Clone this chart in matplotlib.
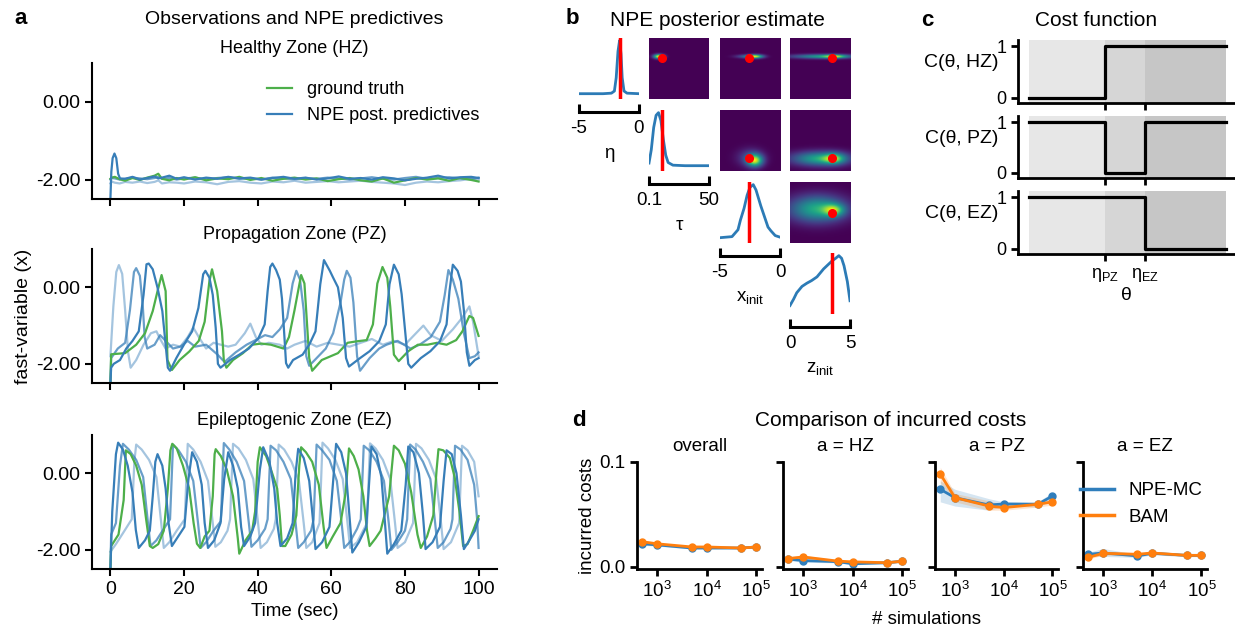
import numpy as np
import matplotlib
matplotlib.use('Agg')
import matplotlib.pyplot as plt
from matplotlib.lines import Line2D
from matplotlib.ticker import NullLocator

plt.rcParams['font.family'] = ['Liberation Sans', 'DejaVu Sans']
plt.rcParams['mathtext.fontset'] = 'custom'
plt.rcParams['mathtext.rm'] = 'Liberation Sans'
plt.rcParams['mathtext.it'] = 'Liberation Sans:italic'
plt.rcParams['mathtext.bf'] = 'Liberation Sans:bold'
plt.rcParams['axes.unicode_minus'] = False

# ---------------- data: panel a (traces as (time, value) pairs) ----------------
hz_t = [0, 0.3, 1.2, 2.5, 4, 6, 8, 10, 12, 13, 14, 16, 18, 20, 23, 26, 29, 32, 35, 38, 41,
        44, 47, 50, 53, 56, 59, 62, 65, 68, 71, 74, 77, 80, 83, 86, 89, 92, 95, 98, 100]
hz_green = [-1.98, -1.95, -1.93, -1.99, -2.03, -1.96, -2.01, -1.95, -1.9, -1.85, -1.98, -2.02, -1.96,
            -2.0, -1.94, -2.02, -1.97, -1.99, -1.93, -2.01, -1.96, -2.03, -1.98, -1.95, -2.0, -1.97,
            -2.04, -1.99, -1.96, -2.02, -2.05, -1.97, -2.08, -2.02, -1.96, -2.0, -1.97, -2.03, -1.96,
            -2.01, -2.05]
hz_mid = [-2.0, -1.96, -1.97, -2.0, -1.98, -1.95, -1.97, -1.99, -1.96, -1.93, -1.98, -1.96, -2.0,
          -1.97, -1.95, -1.99, -1.96, -1.94, -1.98, -1.97, -2.0, -1.95, -1.97, -1.99, -1.96, -1.98,
          -1.95, -1.97, -2.0, -1.97, -1.94, -1.98, -2.0, -1.96, -1.93, -1.98, -1.96, -1.94, -1.97,
          -1.99, -1.95]
hz_light = [-2.1, -2.05, -2.08, -2.1, -2.06, -2.08, -2.05, -2.09, -2.06, -2.02, -2.1, -2.07, -2.08,
            -2.1, -2.05, -2.07, -2.12, -2.06, -2.04, -2.08, -2.1, -2.05, -2.07, -2.03, -2.08, -2.06,
            -2.04, -2.07, -2.05, -2.03, -2.06, -2.08, -2.1, -2.14, -2.08, -2.05, -2.07, -2.04, -2.02,
            -1.98, -2.0]
hz_dark = [(0, -2.5), (0.25, -1.8), (0.6, -1.45), (1.1, -1.33), (1.6, -1.45), (2.1, -1.85),
           (2.6, -1.97), (4, -1.98), (6, -1.93), (8, -2.0), (10, -1.96), (12, -1.92), (13, -1.97),
           (14, -1.95), (16, -1.9), (18, -1.98), (20, -1.94), (23, -2.0), (26, -1.95), (29, -1.98),
           (32, -1.93), (35, -1.97), (38, -1.95), (41, -2.0), (44, -1.96), (47, -1.93), (50, -1.98),
           (53, -1.95), (56, -2.0), (59, -1.97), (62, -1.92), (65, -1.98), (68, -1.96), (71, -2.0),
           (74, -1.94), (77, -1.97), (80, -2.02), (83, -1.98), (86, -1.95), (89, -1.9), (92, -1.97),
           (95, -1.94), (98, -1.93), (100, -1.96)]

pz_green = [(0, -2.5), (0.2, -1.75), (4, -1.72), (7, -1.5), (9.4, -1.2), (11.5, -0.62), (12.8, -0.1),
            (13.9, 0.32), (15, -0.1), (15.5, -1.9), (16.7, -2.16), (18.8, -1.9), (21.4, -1.68),
            (24, -1.4), (25.6, -0.9), (26.9, 0.17), (27.6, 0.47), (29, -0.1), (30.3, -1.15),
            (30.8, -1.9), (31.5, -2.1), (33.3, -1.9), (36, -1.72), (38.5, -1.5), (41, -1.47),
            (43.6, -1.5), (47, -1.6), (48.5, -1.3), (50, -0.6), (51.8, 0.32), (52.7, 0.1),
            (54, -1.85), (54.8, -2.18), (57.4, -1.9), (61.8, -1.72), (64.4, -1.45), (67, -1.41),
            (69.6, -1.38), (71.3, -0.97), (72.5, 0.1), (73.9, 0.53), (75.2, 0.25), (76, -0.5),
            (77, -1.76), (78.3, -1.93), (80.9, -1.67), (83.5, -1.5), (86.1, -1.5), (88.7, -1.45),
            (91.3, -1.5), (93.9, -1.38), (95.6, -1.15), (97.5, -0.75), (98.5, -0.8), (100, -1.27)]
pz_dark = [(0, -2.5), (0.2, -2.1), (0.9, -2.0), (2.6, -1.9), (4.3, -1.6), (6, -1.4), (7.7, -1.15),
           (9, -0.2), (9.8, 0.6), (10.4, 0.62), (11.5, 0.47), (12.8, -0.01), (14.1, -0.62),
           (15, -1.5), (15.6, -2.1), (16.2, -2.18), (17.9, -1.85), (20.5, -1.41), (22.2, -1.15),
           (23.9, -0.54), (25.2, 0.34), (25.8, 0.43), (26.9, 0.25), (27.8, -0.2), (28.6, -1.06),
           (29.2, -2.0), (29.9, -2.1), (32.5, -1.9), (35, -1.76), (37.6, -1.6), (40.2, -1.33),
           (41.9, -0.97), (42.7, -0.1), (43.4, 0.53), (44, 0.62), (45, 0.45), (46, 0.2),
           (46.6, -0.3), (47.2, -1.2), (47.7, -1.98), (48.3, -2.1), (49.6, -1.9), (52.2, -1.76),
           (54, -1.5), (55.7, -1.15), (57, 0.08), (58, 0.71), (59.6, 0.43), (60.5, 0.25), (61.8, 0),
           (63.1, -0.8), (64, -1.85), (64.8, -2.07), (67.8, -1.85), (70.4, -1.67), (73, -1.41),
           (74.8, -0.97), (75.8, 0.08), (77, 0.59), (78.3, 0.34), (79.1, -0.18), (80.4, -1.5),
           (80.9, -2.0), (81.7, -2.1), (84.3, -1.85), (86.9, -1.67), (89.5, -1.41), (91.3, -0.97),
           (92.1, -0.1), (93, 0.59), (94.3, 0.43), (95.2, 0.15), (96, -0.6), (96.8, -1.7),
           (97.5, -2.05), (99, -1.9), (100, -1.85)]
pz_mid = [(0, -2.5), (0.2, -1.85), (2, -1.6), (4, -1.45), (5.3, -0.6), (6.4, 0.4), (7, 0.5), (8, 0.3),
          (8.8, -0.5), (9.3, -1.3), (10, -1.6), (12, -1.5), (13.5, -1.25), (15, -1.4), (17, -1.6),
          (19, -1.55), (21, -1.4), (23, -1.55), (26, -1.5), (29, -1.75), (31, -1.95), (34, -1.7),
          (37, -1.5), (40, -1.35), (42, -1.25), (44, -1.3), (46, -1.1), (48, -0.8), (49.5, 0.1),
          (50.5, 0.43), (51.5, 0.2), (52.5, -0.6), (53.2, -1.8), (54, -2.05), (56, -1.85),
          (58.5, -1.6), (60.5, -1.2), (62.5, -0.4), (63.5, 0.2), (64.2, 0.43), (65.2, 0.25),
          (66, -0.4), (67, -1.8), (67.8, -2.18), (70.4, -1.85), (73, -1.6), (75, -1.5), (78, -1.4),
          (81.5, -1.6), (84, -1.5), (87, -1.3), (89.5, -0.9), (90.8, -0.2), (91.8, 0.45), (93, 0.2),
          (94.5, -0.3), (96, -1.2), (97.5, -1.85), (99, -1.8), (100, -1.7)]
pz_light = [(0, -1.8), (0.8, -0.5), (1.6, 0.4), (2.3, 0.58), (3.2, 0.35), (4, -0.6), (4.8, -1.7),
            (5.5, -2.1), (7, -1.9), (9, -1.5), (11, -1.2), (12.5, -1.15), (13.5, -1.35), (15, -1.6),
            (17, -1.5), (19, -1.55), (21, -1.3), (22.5, -1.05), (24, -1.3), (26, -1.6), (28, -1.45),
            (30, -1.5), (32, -1.55), (34, -1.5), (36.5, -1.2), (38, -0.95), (39.5, -1.3), (41, -1.5),
            (43, -1.45), (46, -1.5), (48, -1.6), (50, -1.5), (53, -1.4), (56, -1.55), (59, -1.45),
            (62, -1.5), (65, -1.55), (68, -1.45), (71, -1.35), (74, -1.5), (77, -1.4), (80, -1.5),
            (83, -1.2), (85, -1.0), (87, -1.25), (90, -1.4), (93, -1.1), (95.5, -0.8), (97.5, -0.5),
            (98.5, -0.9), (100, -1.8)]

ez_green = [(0, -2.5), (0.2, -1.9), (2.2, -1.6), (3.6, -0.7), (4.2, 0.6), (5.5, 0.5), (7, 0.2),
            (8.5, -0.3), (9.7, -1.2), (10.7, -1.9), (11.5, -1.95), (13, -1.85), (14.5, -1.5),
            (15.6, -0.4), (16.3, 0.6), (16.8, 0.77), (18, 0.65), (19.7, 0.2), (21.4, -0.4),
            (22.6, -1.3), (23.5, -1.84), (24.4, -1.95), (25.6, -1.65), (26.9, -1.5), (27.8, -0.6),
            (28.3, 0.5), (28.6, 0.63), (30, 0.45), (31.6, 0.1), (33.3, -0.6), (34.6, -1.7),
            (35, -2.1), (36.7, -1.75), (38.5, -1.5), (39.3, -1.0), (40, 0.3), (40.6, 0.68),
            (42.3, 0.45), (43.6, 0.1), (45.3, -0.4), (46, -1.1), (46.6, -1.9), (47.5, -1.9),
            (49.2, -1.6), (50.5, -1.1), (51.3, 0.2), (51.8, 0.68), (53.1, 0.55), (54.8, 0.3),
            (56.6, -0.3), (57.9, -1.4), (58.7, -1.95), (60.4, -1.65), (62.5, -1.3), (63.9, -0.5),
            (64.8, 0.65), (66.1, 0.45), (67.4, 0.1), (68.7, -0.6), (69.7, -1.5), (70.4, -1.9),
            (72, -1.7), (73.4, -1.5), (75.7, -0.6), (77, 0.72), (78.3, 0.6), (80, 0.25), (81.7, -0.5),
            (83.4, -1.6), (84.3, -1.95), (86, -1.65), (87.7, -1.1), (88.6, 0.1), (89.1, 0.63),
            (90.4, 0.6), (92.2, 0.4), (93.5, -0.1), (94.8, -1.0), (95.8, -1.9), (97, -1.85),
            (98.5, -1.5), (100, -1.12)]
ez_dark = [(0, -2.5), (0.5, -1.0), (1.5, 0.5), (2.1, 0.8), (3.4, 0.62), (4.7, 0.2), (6, -0.5),
           (6.9, -1.48), (7.7, -1.95), (9.4, -1.75), (10.7, -1.5), (11.5, -0.6), (12.2, 0.3),
           (12.8, 0.5), (14.1, 0.2), (15, -0.4), (15.8, -1.3), (16.7, -1.9), (18.4, -1.65),
           (20.1, -1.4), (21.2, -0.15), (22.2, 0.55), (23.5, 0.3), (24.8, -0.3), (25.6, -1.3),
           (26.5, -1.95), (28.2, -1.75), (29.9, -1.3), (30.9, -0.15), (32, 0.55), (33.3, 0.2),
           (34.6, -0.4), (35.5, -1.4), (36.3, -1.9), (38, -1.65), (39.3, -1.3), (40.6, 0.1),
           (41.5, 0.68), (43.2, 0.3), (44.5, -0.4), (45.3, -1.3), (46.2, -1.9), (48, -1.7),
           (49.5, -1.3), (50.3, 0), (51, 0.64), (52.5, 0.4), (54, -0.2), (55, -1.2), (55.7, -1.98),
           (57.5, -1.8), (59.5, -1.4), (60.5, -0.2), (61.3, 0.77), (62.7, 0.55), (64, 0),
           (65, -1.2), (65.7, -2.07), (67.5, -1.8), (69.5, -1.4), (70.3, -0.2), (70.9, 0.7),
           (72.3, 0.5), (73.6, -0.1), (74.5, -1.2), (75.2, -2.1), (77, -1.85), (79, -1.5),
           (80.2, -0.3), (80.9, 0.7), (82.3, 0.55), (83.8, 0), (84.9, -1.1), (85.6, -1.98),
           (87.5, -1.8), (89.5, -1.4), (90.5, -0.2), (91.3, 0.6), (92.7, 0.5), (94, 0),
           (95.2, -1.1), (96, -1.98), (97.5, -1.75), (99, -1.5), (100, -1.2)]
ez_mid = [(0, -2.5), (0.2, -1.6), (1.5, -1.3), (2.6, 0.2), (3.4, 0.77), (5, 0.62), (7, 0.35),
          (8.9, -0.1), (10.2, -1.3), (10.9, -1.9), (12.5, -1.75), (14.5, -1.45), (16.2, -1.2),
          (17, 0.75), (18.5, 0.6), (20.5, 0.3), (22.5, -0.2), (23.8, -1.3), (24.5, -1.95), (26, -1.8),
          (28, -1.5), (30, -1.25), (30.8, 0.79), (32.3, 0.62), (34.3, 0.3), (36.3, -0.2),
          (37.6, -1.3), (38.3, -1.92), (40, -1.75), (42, -1.45), (42.7, -1.2), (43.5, 0.72),
          (45, 0.6), (47, 0.3), (49, -0.15), (50.3, -1.3), (51, -1.95), (52.5, -1.8), (54.5, -1.5),
          (55.2, -1.2), (56, 0.75), (57.5, 0.6), (59.5, 0.35), (61.5, -0.2), (62.8, -1.3),
          (63.5, -1.95), (65, -1.8), (67, -1.45), (68, -1.2), (68.8, 0.72), (70.3, 0.6), (72.3, 0.3),
          (74.3, -0.2), (75.6, -1.3), (76.3, -2.0), (78, -1.8), (80, -1.5), (80.6, -1.2),
          (81.4, 0.75), (82.9, 0.62), (84.9, 0.3), (86.9, -0.15), (88.2, -1.3), (88.9, -1.95),
          (90.5, -1.8), (92.4, -1.45), (92.9, -1.2), (93.6, 0.72), (95.1, 0.62), (97, 0.35),
          (98.8, -0.3), (99.6, -1.2), (100, -1.95)]
ez_light = [(0, -2.05), (1.5, -1.85), (3.5, -1.55), (5.8, -1.2), (6.5, 0.3), (7.0, 0.75), (8.5, 0.62),
            (10.5, 0.35), (12.5, -0.1), (13.8, -1.3), (14.5, -1.95), (16, -1.8), (18, -1.5),
            (20.2, -1.2), (21, 0.77), (22.5, 0.62), (24.5, 0.3), (26.5, -0.2), (27.8, -1.3),
            (28.5, -1.92), (30, -1.8), (31.8, -1.5), (32.5, -1.2), (33.3, 0.77), (34.8, 0.65),
            (36.8, 0.35), (38.8, -0.15), (40.1, -1.3), (40.8, -1.95), (42.5, -1.8), (44.4, -1.45),
            (44.9, -1.2), (45.7, 0.75), (47.2, 0.62), (49.2, 0.3), (51.2, -0.2), (52.5, -1.3),
            (53.2, -1.95), (54.8, -1.8), (56.8, -1.3), (57.6, 0.8), (59.1, 0.65), (61.1, 0.35),
            (63.1, -0.15), (64.4, -1.3), (65.1, -1.95), (67, -1.8), (69.7, -1.3), (70.5, 0.78),
            (72, 0.65), (74, 0.35), (76, -0.15), (77.3, -1.3), (78, -1.95), (80, -1.8), (82.2, -1.3),
            (83, 0.77), (84.5, 0.65), (86.5, 0.35), (88.5, -0.15), (89.8, -1.3), (90.5, -1.98),
            (92.5, -1.8), (94.7, -1.3), (95.5, 0.72), (97, 0.6), (98.8, 0.3), (100, -0.6)]

zones = ['Healthy Zone (HZ)', 'Propagation Zone (PZ)', 'Epileptogenic Zone (EZ)']

# ---------------- data: panel b ----------------
par_labels = ['η', 'τ', 'x$_\\mathrm{init}$', 'z$_\\mathrm{init}$']
par_ranges = [(-5, 0), (0.1, 50), (-5, 0), (0, 5)]
par_ticklabels = [['-5', '0'], ['0.1', '50'], ['-5', '0'], ['0', '5']]
par_true = [-1.6, 11.0, -2.55, 3.5]
marg_eta = [(-5, 0), (-3, 0), (-2.3, 0.01), (-2.05, 0.05), (-1.9, 0.3), (-1.75, 0.8), (-1.62, 1.0),
            (-1.5, 0.75), (-1.4, 0.3), (-1.25, 0.05), (-1.0, 0.01), (0, 0)]
marg_tau = [(0.1, 0.05), (2, 0.3), (4, 0.72), (6, 0.95), (8, 1.0), (10, 0.85), (12, 0.5),
            (14, 0.2), (16, 0.06), (20, 0.01), (30, 0), (50, 0)]
marg_xinit = [(-5, 0), (-4, 0.02), (-3.5, 0.15), (-3.3, 0.33), (-3, 0.55), (-2.74, 0.8), (-2.5, 0.95),
              (-2.23, 1.0), (-2.0, 0.9), (-1.6, 0.6), (-1.33, 0.42), (-1, 0.2), (-0.76, 0.13),
              (-0.4, 0.04), (0, 0.01)]
marg_zinit = [(0, 0.06), (0.3, 0.18), (0.56, 0.3), (1.0, 0.42), (1.4, 0.48), (1.8, 0.53), (2.25, 0.6),
              (2.8, 0.75), (3.5, 0.9), (3.8, 0.95), (4.07, 1.0), (4.3, 0.95), (4.5, 0.81),
              (4.78, 0.51), (5, 0.15)]
marginals = [marg_eta, marg_tau, marg_xinit, marg_zinit]
# 2d posterior blobs in cell fractions: (cx, cy, sx, sy, weight)
blobs = {
    (0, 1): [(0.16, 0.70, 0.06, 0.025, 1.0)],
    (0, 2): [(0.58, 0.70, 0.09, 0.022, 1.0), (0.45, 0.70, 0.13, 0.02, 0.4)],
    (0, 3): [(0.55, 0.70, 0.35, 0.025, 0.55), (0.74, 0.70, 0.12, 0.02, 0.5)],
    (1, 2): [(0.57, 0.17, 0.09, 0.07, 1.0), (0.50, 0.22, 0.15, 0.10, 0.25)],
    (1, 3): [(0.50, 0.20, 0.32, 0.08, 0.6), (0.72, 0.20, 0.12, 0.06, 0.5)],
    (2, 3): [(0.45, 0.56, 0.32, 0.15, 0.55), (0.72, 0.54, 0.12, 0.07, 0.5)],
}

# ---------------- data: panel c ----------------
eta_pz, eta_ez = 0.386, 0.59
theta_pts = [0, eta_pz, eta_pz, eta_ez, eta_ez, 1]
cost_hz = [0, 0, 1, 1, 1, 1]
cost_pz = [1, 1, 0, 0, 1, 1]
cost_ez = [1, 1, 1, 1, 0, 0]

# ---------------- data: panel d ----------------
n_sims = [500, 1000, 5000, 10000, 50000, 100000]
d_titles = ['overall', 'a = HZ', 'a = PZ', 'a = EZ']
npe_mean = [[0.022, 0.021, 0.018, 0.018, 0.018, 0.019],
            [0.0075, 0.006, 0.005, 0.003, 0.004, 0.0055],
            [0.074, 0.066, 0.059, 0.060, 0.0597, 0.0676],
            [0.012, 0.0133, 0.0105, 0.013, 0.011, 0.011]]
npe_lo = [[0.0205, 0.0198, 0.0170, 0.0172, 0.0172, 0.0182],
          [0.006, 0.0045, 0.0038, 0.002, 0.003, 0.0042],
          [0.062, 0.058, 0.054, 0.058, 0.057, 0.064],
          [0.010, 0.010, 0.009, 0.0115, 0.0098, 0.0098]]
npe_hi = [[0.0235, 0.0222, 0.0190, 0.0188, 0.0188, 0.0198],
          [0.009, 0.0075, 0.0062, 0.004, 0.005, 0.0068],
          [0.082, 0.074, 0.065, 0.062, 0.062, 0.071],
          [0.014, 0.0175, 0.012, 0.0145, 0.0122, 0.0122]]
bam_mean = [[0.024, 0.022, 0.019, 0.019, 0.018, 0.019],
            [0.008, 0.0095, 0.0055, 0.0048, 0.004, 0.0055],
            [0.0886, 0.066, 0.058, 0.0565, 0.0597, 0.062],
            [0.009, 0.013, 0.012, 0.0133, 0.011, 0.011]]
bam_lo = [[0.0228, 0.0210, 0.0182, 0.0182, 0.0172, 0.0182],
          [0.0065, 0.008, 0.0042, 0.0038, 0.003, 0.0042],
          [0.080, 0.062, 0.054, 0.054, 0.057, 0.059],
          [0.0075, 0.011, 0.0105, 0.012, 0.0098, 0.0098]]
bam_hi = [[0.0252, 0.0230, 0.0198, 0.0198, 0.0188, 0.0198],
          [0.0095, 0.011, 0.0068, 0.0058, 0.005, 0.0068],
          [0.095, 0.070, 0.063, 0.059, 0.062, 0.065],
          [0.0105, 0.015, 0.0135, 0.0148, 0.0122, 0.0122]]

GREEN = '#4daf4a'
BLUE = '#377eb8'
D_BLUE = '#2f7ebc'
D_ORANGE = '#ff7f0e'

W, H = 1235, 628
fig = plt.figure(figsize=(W / 100, H / 100), dpi=100)


def px_axes(x0, y0, x1, y1):
    return fig.add_axes([x0 / W, 1 - y1 / H, (x1 - x0) / W, (y1 - y0) / H])


def clean(ax, lw=1.5):
    for s in ['top', 'right']:
        ax.spines[s].set_visible(False)
    for s in ['left', 'bottom']:
        ax.spines[s].set_linewidth(lw)


# ---------------- panel a ----------------
rows_a = [(63, 199), (249, 383), (435, 569)]
traces = [
    [(hz_t, hz_light, 0.45), (hz_t, hz_mid, 0.75), (hz_t, hz_green, None), (*zip(*hz_dark), 1.0)],
    [(*zip(*pz_light), 0.45), (*zip(*pz_mid), 0.75), (*zip(*pz_green), None), (*zip(*pz_dark), 1.0)],
    [(*zip(*ez_light), 0.45), (*zip(*ez_mid), 0.75), (*zip(*ez_green), None), (*zip(*ez_dark), 1.0)],
]
axes_a = []
for i, (y0, y1) in enumerate(rows_a):
    ax = px_axes(92, y0, 497, y1)
    axes_a.append(ax)
    clean(ax)
    handles = {}
    for t, v, a in traces[i]:
        if a is None:
            handles['g'], = ax.plot(t, v, color=GREEN, lw=1.6)
        else:
            ln, = ax.plot(t, v, color=BLUE, lw=1.6, alpha=a)
            if a == 1.0:
                handles['b'] = ln
    ax.set_xlim(-5, 105)
    ax.set_ylim(-2.5, 1.0)
    ax.set_yticks([0, -2])
    ax.set_yticklabels(['0.00', '-2.00'])
    ax.set_xticks([0, 20, 40, 60, 80, 100])
    ax.tick_params(labelsize=14, width=1.5, length=5)
    ax.set_title(zones[i], fontsize=13, pad=7)
    if i < 2:
        ax.set_xticklabels([])
    if i == 0:
        ax.legend([handles['g'], handles['b']], ['ground truth', 'NPE post. predictives'],
                  frameon=False, fontsize=13, loc='upper right', handlelength=1.4,
                  borderaxespad=0.6)
axes_a[1].set_ylabel('fast-variable (x)', fontsize=14, labelpad=3)
axes_a[2].set_xlabel('Time (sec)', fontsize=13.5)
fig.text(294 / W, 1 - 20 / H, 'Observations and NPE predictives', ha='center', va='center',
         fontsize=14)

# ---------------- panel b ----------------
col_x = [579, 649, 720, 790]
row_y = [38, 110, 182, 253]
cell = 60
g = np.linspace(0, 1, 90)
GX, GY = np.meshgrid(g, g)
for i in range(4):
    for j in range(i, 4):
        ax = px_axes(col_x[j], row_y[i], col_x[j] + cell, row_y[i] + cell + 1)
        if i == j:
            xs, ys = zip(*marginals[i])
            ax.plot(xs, ys, color='#2c7bb6', lw=2)
            ax.axvline(par_true[i], color='red', lw=2.5)
            lo, hi = par_ranges[i]
            ax.set_xlim(lo, hi)
            ax.set_ylim(-0.1, 1.05)
            for s in ['top', 'right', 'left']:
                ax.spines[s].set_visible(False)
            ax.spines['bottom'].set_position(('outward', 9))
            ax.spines['bottom'].set_linewidth(2.2)
            ax.set_yticks([])
            ax.set_xticks([lo, hi])
            ax.set_xticklabels(par_ticklabels[i])
            ax.tick_params(axis='x', direction='in', length=6, width=2.2, labelsize=13.5, pad=6)
            ax.set_xlabel(par_labels[i], fontsize=13.5, labelpad=6)
        else:
            Z = np.zeros_like(GX)
            for cx, cy, sx, sy, w in blobs[(i, j)]:
                Z += w * np.exp(-((GX - cx) ** 2 / (2 * sx ** 2) + (GY - cy) ** 2 / (2 * sy ** 2)))
            ax.imshow(Z, origin='lower', extent=(0, 1, 0, 1), cmap='viridis', aspect='auto',
                      vmin=0, vmax=Z.max(), interpolation='bilinear')
            lo_x, hi_x = par_ranges[j]
            lo_y, hi_y = par_ranges[i]
            ax.plot((par_true[j] - lo_x) / (hi_x - lo_x), (par_true[i] - lo_y) / (hi_y - lo_y),
                    'o', color='red', ms=5.5)
            ax.set_xlim(0, 1)
            ax.set_ylim(0, 1)
            ax.axis('off')
fig.text(717 / W, 1 - 21 / H, 'NPE posterior estimate', ha='center', va='center', fontsize=15)

# ---------------- panel c ----------------
rows_c = [(40, 103), (116, 178), (191, 254)]
costs = [cost_hz, cost_pz, cost_ez]
clabels = ['C(θ, HZ)', 'C(θ, PZ)', 'C(θ, EZ)']
for i, (y0, y1) in enumerate(rows_c):
    ax = px_axes(1018, y0, 1235, y1)
    clean(ax, lw=2)
    ax.axvspan(0, eta_pz, color='#e7e7e7', lw=0)
    ax.axvspan(eta_pz, eta_ez, color='#d6d6d6', lw=0)
    ax.axvspan(eta_ez, 1, color='#c6c6c6', lw=0)
    ax.plot(theta_pts, costs[i], color='black', lw=2.3)
    ax.set_xlim(-0.055, 1.045)
    ax.set_ylim(-0.1, 1.12)
    ax.set_yticks([0, 1])
    ax.set_xticks([eta_pz, eta_ez])
    ax.tick_params(width=2, length=5, labelsize=13)
    ax.text(-0.09, 0.64, clabels[i], transform=ax.transAxes, ha='right', va='center', fontsize=14)
    if i < 2:
        ax.set_xticklabels([])
    else:
        ax.set_xticklabels(['η$_\\mathrm{PZ}$', 'η$_\\mathrm{EZ}$'])
        ax.set_xlabel('θ', fontsize=14, labelpad=2)
fig.text(1096 / W, 1 - 21 / H, 'Cost function', ha='center', va='center', fontsize=15)

# ---------------- panel d ----------------
cols_d = [(637, 762), (783, 908), (935, 1058), (1083, 1207)]
for k, (x0, x1) in enumerate(cols_d):
    ax = px_axes(x0, 462, x1, 569)
    clean(ax, lw=2)
    ax.fill_between(n_sims, npe_lo[k], npe_hi[k], color=D_BLUE, alpha=0.2, lw=0)
    ax.fill_between(n_sims, bam_lo[k], bam_hi[k], color=D_ORANGE, alpha=0.2, lw=0)
    ax.plot(n_sims, npe_mean[k], '-o', color=D_BLUE, lw=2, ms=5)
    ax.plot(n_sims, bam_mean[k], '-o', color=D_ORANGE, lw=2, ms=5)
    ax.set_xscale('log')
    ax.set_xlim(390, 1.3e5)
    ax.set_ylim(-0.002, 0.1)
    ax.set_xticks([1e3, 1e4, 1e5])
    ax.xaxis.set_minor_locator(NullLocator())
    ax.set_yticks([0, 0.1])
    ax.tick_params(width=2, length=5, labelsize=13.5)
    ax.set_title(d_titles[k], fontsize=13.5, pad=8)
    if k == 0:
        ax.set_yticklabels(['0.0', '0.1'])
        ax.set_ylabel('incurred costs', fontsize=13.5, labelpad=2)
    else:
        ax.set_yticklabels([])
    if k == 3:
        leg_handles = [Line2D([], [], color=D_BLUE, lw=2.5), Line2D([], [], color=D_ORANGE, lw=2.5)]
        ax.legend(leg_handles, ['NPE-MC', 'BAM'], frameon=False, fontsize=13.5, loc='upper right',
                  bbox_to_anchor=(1.1, 0.97), handlelength=1.8)
fig.text(891 / W, 1 - 421 / H, 'Comparison of incurred costs', ha='center', va='center', fontsize=15)
fig.text(927 / W, 1 - 620 / H, '# simulations', ha='center', va='center', fontsize=13.5)

# panel letters
for lab, x, y in [('a', 21, 19), ('b', 572, 19), ('c', 927, 21), ('d', 579, 420)]:
    fig.text(x / W, 1 - y / H, lab, ha='center', va='center', fontsize=16, fontweight='bold')

fig.savefig('out.png', dpi=100)
